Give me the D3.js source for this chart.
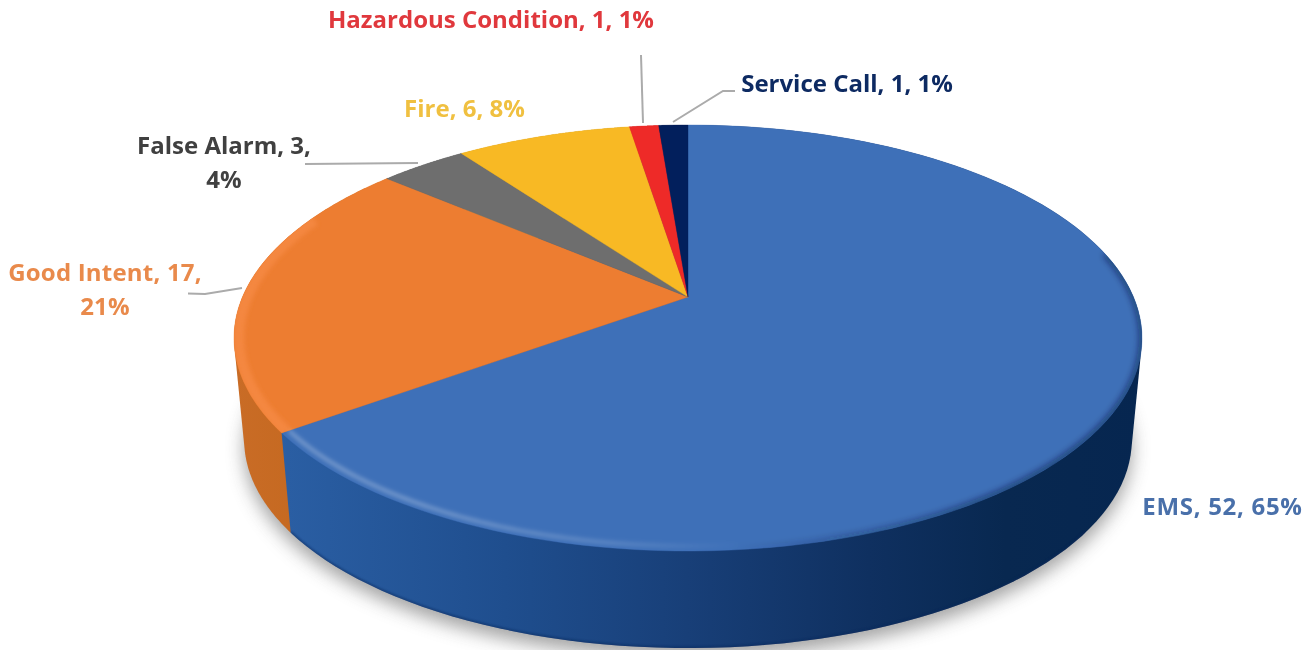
<!DOCTYPE html>
<html><head><meta charset="utf-8">
<script src="https://cdnjs.cloudflare.com/ajax/libs/d3/7.8.5/d3.min.js"></script>
<style>
html,body{margin:0;padding:0;background:#fff;overflow:hidden}
text{font-family:"Open Sans",sans-serif;font-weight:700}
</style></head><body>
<svg id="c" width="1315" height="650"></svg>
<script>
const categories = ["EMS","Good Intent","False Alarm","Fire","Hazardous Condition","Service Call"];
const values = [52,17,3,6,1,1];
const percents = ["65%","21%","4%","8%","1%","1%"];
const topColors = ["#3E70B8","#ED7D31","#6E6E6E","#F8B924","#EE2A28","#021F5C"];
const labelColors = ["#4A70AA","#E98A4C","#404040","#F0C040","#E0383C","#0E2A62"];

// Layout of the perspective disc
const apex = {x:688, y:297}, R = 445.5, B = 205.1, K = -0.1925;
const vanishY = 4887, depthScale = 0.9776;
const project = (a, s=1, r=1) => {
  const u = r*Math.sin(a), v = -r*Math.cos(a), d = 1 + K*v;
  const X = apex.x + R*u/d, Y = apex.y + B*v/d;
  return [apex.x + (X-apex.x)*s, vanishY + (Y-vanishY)*s];
};
const arcPts = (a0,a1,s=1,r=1) => d3.range(0,121).map(i=>project(a0+(a1-a0)*i/120,s,r));
const line = d3.line();

const svg = d3.select("#c");
const defs = svg.append("defs");
const blur = (id, sd) => defs.append("filter").attr("id",id).attr("x","-20%").attr("y","-20%").attr("width","140%").attr("height","140%")
  .append("feGaussianBlur").attr("stdDeviation",sd);
blur("shadow",9); blur("b2",2); blur("b4",3); blur("b1",1);
defs.append("filter").attr("id","soft").append("feGaussianBlur").attr("stdDeviation",0.45);

const grad = (id, stops) => {
  const g = defs.append("linearGradient").attr("id",id).attr("gradientUnits","userSpaceOnUse")
    .attr("x1",233).attr("x2",1142).attr("y1",0).attr("y2",0);
  stops.forEach(([o,c,op])=>g.append("stop").attr("offset",o).attr("stop-color",c).attr("stop-opacity",op===undefined?1:op));
};
grad("sideBlue",[[0,"#2F66AE"],[0.06,"#2A5EA3"],[0.3,"#1F4E8E"],[0.5,"#183F78"],[0.7,"#0F3060"],[0.85,"#082850"],[1,"#062650"]]);
grad("sideOrange",[[0,"#C96C26"],[0.1,"#C4681F"]]);
grad("rimLight",[[0,"#fff",0.32],[0.2,"#fff",0.32],[0.42,"#fff",0.18],[0.56,"#fff",0]]);
grad("rimDark",[[0.55,"#03183a",0],[0.68,"#03183a",0.3],[0.85,"#03183a",0.55],[1,"#03183a",0.55]]);

const pie = d3.pie().sort(null).value(d=>d);
const arcs = pie(values);

// soft shadow under the disc
svg.append("path")
  .attr("d", line(arcPts(0,2*Math.PI,depthScale))+"Z")
  .attr("transform","translate(0,9)")
  .attr("fill","#666").attr("opacity",0.6).attr("filter","url(#shadow)");

// side walls: each slice's wall is the hull of its upper and lower rims
const sideFill = ["url(#sideBlue)","url(#sideOrange)","#555","#c08f1a","#b81f1d","#01143c"];
svg.append("g").selectAll("path").data(arcs.slice().reverse()).join("path")
  .attr("d", d => line(d3.polygonHull(arcPts(d.startAngle,d.endAngle,1).concat(arcPts(d.startAngle,d.endAngle,depthScale))))+"Z")
  .attr("fill",d=>sideFill[d.index]);

// top faces
const facePath = d => line([[apex.x,apex.y]].concat(arcPts(d.startAngle,d.endAngle)))+"Z";
svg.append("g").selectAll("path").data(arcs).join("path")
  .attr("d", facePath)
  .attr("fill",d=>topColors[d.index])
  .attr("stroke",d=>topColors[d.index]).attr("stroke-width",0.4);

// bevel: lit rim on the near-left edge, dark falloff on the right
defs.append("clipPath").attr("id","disc").append("path").attr("d", line(arcPts(0,2*Math.PI))+"Z");
defs.append("clipPath").attr("id","orangeFace").append("path").attr("d", facePath(arcs[1]));
svg.append("path").attr("clip-path","url(#orangeFace)")
  .attr("d", line(arcPts(arcs[1].startAngle,arcs[1].startAngle+1.05,1,0.99)))
  .attr("fill","none").attr("stroke","#F48740").attr("stroke-width",11).attr("filter","url(#b2)");
const rim = svg.append("g").attr("clip-path","url(#disc)");
rim.append("path").attr("d", line(arcPts(arcs[0].endAngle-1.3,arcs[0].endAngle,1,0.984)))
  .attr("fill","none").attr("stroke","url(#rimLight)").attr("stroke-width",3.5).attr("filter","url(#b2)");
rim.append("path").attr("d", line(arcPts(1.35,3.3)))
  .attr("fill","none").attr("stroke","url(#rimDark)").attr("stroke-width",6).attr("filter","url(#b4)");

// darker lip along the bottom of the wall
defs.append("clipPath").attr("id","wall").append("path")
  .attr("d", line(d3.polygonHull(arcPts(arcs[0].startAngle,arcs[0].endAngle,1).concat(arcPts(arcs[0].startAngle,arcs[0].endAngle,depthScale))))+"Z");
svg.append("path").attr("clip-path","url(#wall)")
  .attr("d", line(arcPts(2.2,arcs[0].endAngle,depthScale)))
  .attr("fill","none").attr("stroke","#0A2A5C").attr("stroke-width",3).attr("opacity",0.55).attr("filter","url(#b1)");

// leader lines
const leaders = [
  [[188,293.5],[205,294],[242,288]],
  [[305,164],[418,163]],
  [[641,55],[643,123]],
  [[735,91],[723,91],[673,122]]
];
svg.append("g").selectAll("path").data(leaders).join("path")
  .attr("d",d=>line(d)).attr("fill","none").attr("stroke","#ABABAB").attr("stroke-width",2);

// labels
const labelLines = [
  [`${categories[0]}, ${values[0]}, ${percents[0]}`],
  [`${categories[1]}, ${values[1]},`, percents[1]],
  [`${categories[2]}, ${values[2]},`, percents[2]],
  [`${categories[3]}, ${values[3]}, ${percents[3]}`],
  [`${categories[4]}, ${values[4]}, ${percents[4]}`],
  [`${categories[5]}, ${values[5]}, ${percents[5]}`]
];
const labelAnchors = [[1222.5,515],[105,281],[224,154],[464.5,117],[491,28],[847,92]];
const labelTracking = [0.7,0.2,0,0,0,0];
const labels = svg.append("g").attr("filter","url(#soft)");
labelLines.forEach((ls,i)=>{
  const t = labels.append("text").attr("text-anchor","middle").attr("fill",labelColors[i])
    .attr("font-size",24).attr("letter-spacing",labelTracking[i]);
  ls.forEach((s,j)=>t.append("tspan").attr("x",labelAnchors[i][0]).attr("y",labelAnchors[i][1]+j*34).text(s));
});
</script></body></html>
